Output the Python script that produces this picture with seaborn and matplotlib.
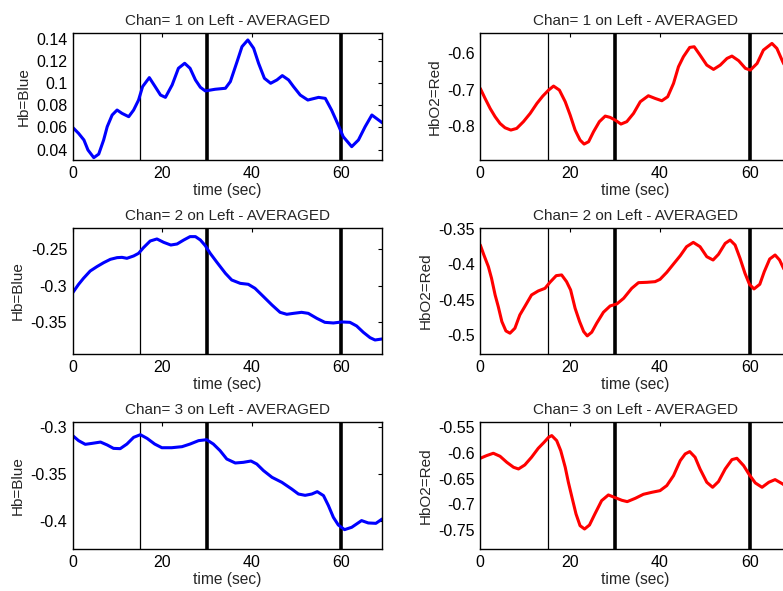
import matplotlib
matplotlib.use("Agg")
import matplotlib.pyplot as plt
import seaborn as sns

# ---- data (time in sec) ----
t_hb1 = [0, 1.3, 2.5, 3.4, 4.7, 5.8, 6.9, 7.7, 8.8, 9.9, 11.0, 12.5, 13.6, 14.7, 15.6, 17.1, 18.4, 19.6, 20.7, 22.2, 23.6, 25.0, 26.2, 27.4, 28.5, 29.6, 31.8, 34.1, 35.2, 36.7, 37.8, 39.1, 40.4, 41.5, 42.8, 44.2, 45.6, 46.8, 48.2, 49.3, 50.8, 52.5, 54.9, 56.4, 57.8, 59.3, 60.4, 62.3, 63.8, 65.3, 66.8, 68.1, 69.1]
hb1 = [0.0600, 0.0547, 0.0487, 0.0397, 0.0328, 0.0360, 0.0487, 0.0607, 0.0712, 0.0757, 0.0727, 0.0697, 0.0757, 0.0847, 0.0968, 0.1049, 0.0968, 0.0892, 0.0871, 0.0983, 0.1133, 0.1178, 0.1133, 0.1028, 0.0962, 0.0929, 0.0944, 0.0953, 0.1013, 0.1193, 0.1328, 0.1388, 0.1313, 0.1178, 0.1043, 0.0998, 0.1028, 0.1067, 0.1028, 0.0968, 0.0892, 0.0847, 0.0871, 0.0862, 0.0757, 0.0622, 0.0517, 0.0427, 0.0487, 0.0607, 0.0712, 0.0673, 0.0643]

t_o1 = [0, 1.05, 2.2, 3.3, 4.4, 5.5, 6.8, 8.1, 9.6, 11.1, 12.6, 13.9, 15.2, 16.3, 17.6, 18.9, 20.0, 21.1, 22.2, 23.1, 24.1, 25.2, 26.5, 27.8, 28.9, 30.0, 31.3, 32.6, 34.1, 35.6, 37.4, 38.9, 40.4, 41.7, 43.0, 44.1, 45.2, 46.6, 47.6, 48.9, 50.4, 51.9, 53.4, 54.9, 56.0, 57.5, 59.0, 60.1, 61.6, 63.0, 64.9, 66.0, 67.3, 69.0]
o1 = [-0.696, -0.723, -0.751, -0.7735, -0.792, -0.8037, -0.810, -0.8055, -0.787, -0.7644, -0.737, -0.717, -0.7005, -0.6895, -0.7005, -0.7324, -0.769, -0.810, -0.8374, -0.8484, -0.842, -0.8146, -0.787, -0.7717, -0.7753, -0.7826, -0.7936, -0.787, -0.7644, -0.7324, -0.716, -0.7233, -0.7297, -0.7187, -0.6822, -0.6365, -0.6091, -0.5836, -0.5817, -0.6046, -0.632, -0.6438, -0.632, -0.6137, -0.6073, -0.620, -0.641, -0.6457, -0.6274, -0.5909, -0.5726, -0.5863, -0.6228, -0.665]

t_hb2 = [0, 1.3, 2.4, 3.9, 5.4, 6.9, 8.4, 9.9, 11.0, 12.1, 13.6, 14.7, 15.8, 17.3, 18.8, 20.3, 21.9, 23.3, 24.8, 26.2, 27.4, 28.5, 29.6, 30.7, 32.2, 34.1, 35.5, 37.4, 39.2, 40.7, 42.6, 44.5, 46.3, 47.8, 49.3, 51.1, 52.6, 54.5, 56.3, 58.2, 60.1, 61.9, 63.4, 64.9, 66.4, 67.5, 69.1]
hb2 = [-0.3094, -0.298, -0.2897, -0.2797, -0.2737, -0.2683, -0.2637, -0.2614, -0.261, -0.2623, -0.2591, -0.2555, -0.2477, -0.2386, -0.2358, -0.2404, -0.2441, -0.2427, -0.2372, -0.2326, -0.2326, -0.2372, -0.245, -0.2555, -0.2678, -0.2829, -0.292, -0.2966, -0.2979, -0.3034, -0.3148, -0.3263, -0.3363, -0.339, -0.3377, -0.3363, -0.3377, -0.3445, -0.350, -0.3509, -0.3495, -0.350, -0.355, -0.3637, -0.371, -0.3742, -0.3728]

t_o2 = [0, 0.8, 1.8, 2.5, 3.3, 4.0, 4.8, 5.7, 6.6, 7.7, 8.8, 9.9, 11.4, 12.9, 14.4, 15.5, 16.9, 18.1, 19.2, 20.1, 21.1, 22.1, 23.0, 23.8, 24.8, 25.9, 27.4, 28.9, 30.4, 31.9, 33.7, 35.2, 37.1, 38.9, 40.0, 41.5, 43.0, 44.5, 45.9, 47.4, 48.9, 50.4, 51.8, 53.0, 54.5, 55.6, 56.7, 57.8, 58.9, 59.9, 60.9, 62.2, 63.2, 64.4, 65.6, 66.6, 67.3, 69.0]
o2 = [-0.373, -0.3871, -0.4036, -0.420, -0.4436, -0.460, -0.4812, -0.4944, -0.4976, -0.4906, -0.4718, -0.460, -0.4436, -0.4379, -0.4342, -0.4257, -0.4163, -0.4153, -0.4248, -0.4365, -0.4624, -0.4812, -0.4953, -0.5014, -0.4962, -0.4835, -0.468, -0.4591, -0.4562, -0.4483, -0.4342, -0.4262, -0.4257, -0.4248, -0.4215, -0.4116, -0.3998, -0.3881, -0.3754, -0.3693, -0.3754, -0.3895, -0.3942, -0.3862, -0.3707, -0.366, -0.373, -0.3918, -0.413, -0.4285, -0.4351, -0.4285, -0.4106, -0.3928, -0.3871, -0.3942, -0.4036, -0.425]

t_hb3 = [0, 1.3, 2.8, 4.3, 6.2, 7.7, 9.1, 10.6, 12.1, 13.6, 15.1, 16.6, 18.3, 19.9, 22.1, 24.4, 26.2, 28.1, 29.9, 31.4, 32.9, 34.4, 36.3, 38.1, 39.8, 41.1, 42.6, 44.5, 46.7, 48.9, 50.4, 51.9, 53.4, 54.6, 56.0, 57.1, 58.2, 59.3, 60.7, 62.3, 64.5, 66.0, 67.7, 69.1]
hb3 = [-0.3095, -0.3148, -0.3187, -0.3177, -0.3163, -0.3194, -0.323, -0.3233, -0.3184, -0.3113, -0.3085, -0.3124, -0.3184, -0.3223, -0.3223, -0.3212, -0.3184, -0.3148, -0.3138, -0.3184, -0.3254, -0.3343, -0.3385, -0.3378, -0.3364, -0.3396, -0.3466, -0.3537, -0.359, -0.3661, -0.3714, -0.3728, -0.3714, -0.3689, -0.3731, -0.3837, -0.3961, -0.4042, -0.4092, -0.4067, -0.3996, -0.4021, -0.4025, -0.3979]

t_o3 = [0, 1.4, 2.9, 4.4, 5.9, 7.4, 8.5, 9.9, 11.4, 12.9, 14.2, 15.2, 15.9, 17.0, 17.9, 18.9, 19.6, 20.4, 21.3, 22.2, 23.2, 24.3, 25.5, 27.0, 28.5, 30.0, 31.5, 32.7, 34.5, 36.3, 38.2, 40.0, 41.5, 43.0, 44.5, 45.6, 46.6, 47.8, 48.9, 50.4, 51.7, 53.0, 54.5, 56.0, 57.1, 58.6, 59.9, 61.2, 62.7, 64.2, 65.6, 67.3, 69.0]
o3 = [-0.6104, -0.6052, -0.6006, -0.6065, -0.6182, -0.6279, -0.6312, -0.6234, -0.6084, -0.5909, -0.5792, -0.5695, -0.5662, -0.576, -0.5955, -0.6279, -0.6571, -0.6864, -0.7188, -0.7416, -0.7481, -0.7403, -0.7188, -0.6929, -0.6818, -0.687, -0.6922, -0.6948, -0.6883, -0.6805, -0.6766, -0.6734, -0.6636, -0.6442, -0.6149, -0.6019, -0.5974, -0.6084, -0.6312, -0.6571, -0.6669, -0.6558, -0.6312, -0.613, -0.6104, -0.6247, -0.6429, -0.6584, -0.6669, -0.6571, -0.6519, -0.6604, -0.672]

thin_marks = [15]
thick_marks = [30, 60]
x_ticks = [0, 20, 40, 60]

panels = [
    (t_hb1, hb1, "blue", "Hb=Blue", (0.0307, 0.1451), [0.04, 0.06, 0.08, 0.1, 0.12, 0.14], ["0.04", "0.06", "0.08", "0.1", "0.12", "0.14"]),
    (t_o1, o1, "red", "HbO2=Red", (-0.892, -0.544), [-0.8, -0.7, -0.6], ["-0.8", "-0.7", "-0.6"]),
    (t_hb2, hb2, "blue", "Hb=Blue", (-0.3934, -0.2208), [-0.35, -0.3, -0.25], ["-0.35", "-0.3", "-0.25"]),
    (t_o2, o2, "red", "HbO2=Red", (-0.527, -0.349), [-0.5, -0.45, -0.4, -0.35], ["-0.5", "-0.45", "-0.4", "-0.35"]),
    (t_hb3, hb3, "blue", "Hb=Blue", (-0.4297, -0.2950), [-0.4, -0.35, -0.3], ["-0.4", "-0.35", "-0.3"]),
    (t_o3, o3, "red", "HbO2=Red", (-0.787, -0.5397), [-0.75, -0.7, -0.65, -0.6, -0.55], ["-0.75", "-0.7", "-0.65", "-0.6", "-0.55"]),
]
titles = ["Chan= 1 on Left - AVERAGED", "Chan= 1 on Left - AVERAGED",
          "Chan= 2 on Left - AVERAGED", "Chan= 2 on Left - AVERAGED",
          "Chan= 3 on Left - AVERAGED", "Chan= 3 on Left - AVERAGED"]

sns.set_style("white")
plt.rcParams['font.family'] = ['Liberation Sans', 'DejaVu Sans']

fig = plt.figure(figsize=(7.83, 5.91), dpi=100)
fig.patch.set_facecolor("white")

col_x = [0.0929, 0.6134]
col_w = [0.3946, 0.3960]
row_y = [0.7293, 0.4010, 0.0711]
row_h = [0.2149, 0.2132, 0.2149]

for i, (t, v, color, ylab, ylim, yt, ytl) in enumerate(panels):
    r, c = divmod(i, 2)
    ax = fig.add_axes([col_x[c], row_y[r], col_w[c], row_h[r]])
    ax.set_xlim(0, 69)
    ax.set_ylim(*ylim)
    for m in thin_marks:
        ax.axvline(m, color="black", lw=0.9)
    for m in thick_marks:
        ax.axvline(m, color="black", lw=2.6)
    sns.lineplot(x=t, y=v, ax=ax, color=color, lw=2.2, estimator=None)
    ax.set_xticks(x_ticks)
    ax.set_xticklabels([str(x) for x in x_ticks])
    ax.set_yticks(yt)
    ax.set_yticklabels(ytl)
    ax.tick_params(direction="in", length=3, width=0.8, top=True, right=True,
                   labelsize=11.5, colors="black", pad=4)
    for s in ax.spines.values():
        s.set_color("black")
        s.set_linewidth(1.0)
    ax.set_xlabel("time (sec)", fontsize=11.2, labelpad=2)
    ax.set_ylabel(ylab, fontsize=11, labelpad=4)
    ax.set_title(titles[i], fontsize=11, pad=6)

fig.savefig("out.png", dpi=100, facecolor="white")
